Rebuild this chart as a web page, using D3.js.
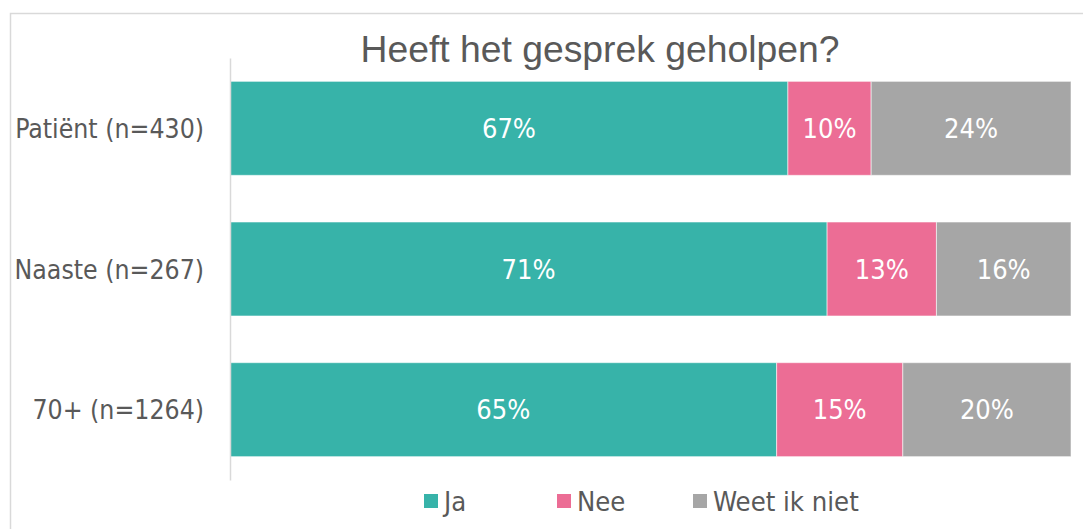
<!DOCTYPE html>
<html>
<head>
<meta charset="utf-8">
<script src="https://cdn.jsdelivr.net/npm/d3@7"></script>
<style>
  html, body { margin: 0; padding: 0; background: #fff; }
  svg { display: block; }
</style>
</head>
<body>
<svg id="chart" width="1083" height="529"></svg>
<script>
// Groups (rows) and answer shares in percent, as labelled
const categories = ["Patiënt (n=430)", "Naaste (n=267)", "70+ (n=1264)"];
const seriesNames = ["Ja", "Nee", "Weet ik niet"];
const ja = [67, 71, 65];
const nee = [10, 13, 15];
const weetIkNiet = [24, 16, 20];
const colors = ["#37B3A9", "#EC6D95", "#A6A6A6"];
const title = "Heeft het gesprek geholpen?";

const labelFont = "'DejaVu Sans Condensed', 'DejaVu Sans', sans-serif";
const textColor = "#595959";

const rows = categories.map((c, i) => ({
  category: c,
  "Ja": ja[i],
  "Nee": nee[i],
  "Weet ik niet": weetIkNiet[i]
}));

const svg = d3.select("#chart");

// outer chart frame
svg.append("rect")
  .attr("x", 10.5).attr("y", 13.5)
  .attr("width", 1100).attr("height", 560)
  .attr("fill", "#fff")
  .attr("stroke", "#d9d9d9").attr("stroke-width", 1.5);

// title
svg.append("text")
  .attr("x", 600).attr("y", 62)
  .attr("text-anchor", "middle")
  .attr("font-family", "'Liberation Sans', Arial, sans-serif")
  .attr("font-size", 37.3)
  .attr("fill", textColor)
  .text(title);

const x = d3.scaleLinear().domain([0, 1]).range([230, 1071]);
const y = d3.scaleBand().domain(categories).range([58, 480])
  .paddingInner(0.332).paddingOuter(0.166);

// 100% stacked: each row normalised by its own total
const stack = d3.stack().keys(seriesNames).offset(d3.stackOffsetExpand);
const layers = stack(rows);

const g = svg.append("g");
const layerG = g.selectAll("g.layer")
  .data(layers)
  .join("g")
  .attr("class", "layer")
  .attr("fill", (d, i) => colors[i]);

layerG.selectAll("rect")
  .data(d => d)
  .join("rect")
  .attr("x", d => x(d[0]))
  .attr("y", d => y(d.data.category))
  .attr("width", d => x(d[1]) - x(d[0]))
  .attr("height", y.bandwidth())
  .attr("stroke", "rgba(255,255,255,0.55)")
  .attr("stroke-width", 1);

// value labels centred in each segment
layerG.selectAll("text")
  .data((d) => d.map(v => ({ v, key: d.key })))
  .join("text")
  .attr("x", d => (x(d.v[0]) + x(d.v[1])) / 2)
  .attr("y", d => y(d.v.data.category) + y.bandwidth() / 2)
  .attr("dy", "0.36em")
  .attr("text-anchor", "middle")
  .attr("font-family", labelFont)
  .attr("font-size", 27)
  .attr("fill", "#fff")
  .text(d => d.v.data[d.key] + "%");

// category axis
const axis = svg.append("g")
  .attr("transform", "translate(230,0)")
  .call(d3.axisLeft(y).tickSize(0).tickPadding(26));
axis.select(".domain").attr("stroke", "#d9d9d9").attr("stroke-width", 1.5);
axis.selectAll("text")
  .attr("font-family", labelFont)
  .attr("font-size", 26.4)
  .attr("fill", textColor)
  .attr("dy", "0.36em");

// legend
const legendX = [424, 557, 693];
const legend = svg.append("g")
  .selectAll("g")
  .data(seriesNames)
  .join("g")
  .attr("transform", (d, i) => `translate(${legendX[i]},494)`);
legend.append("rect")
  .attr("width", 14).attr("height", 14)
  .attr("fill", (d, i) => colors[i]);
legend.append("text")
  .attr("x", 20).attr("y", 16.5)
  .attr("font-family", labelFont)
  .attr("font-size", 27.2)
  .attr("fill", textColor)
  .text(d => d);
</script>
</body>
</html>
